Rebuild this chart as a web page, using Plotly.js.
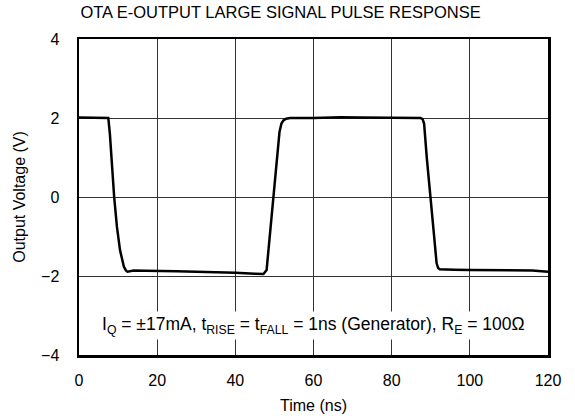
<!DOCTYPE html>
<html>
<head>
<meta charset="utf-8">
<script src="https://cdn.plot.ly/plotly-3.0.1.min.js"></script>
<style>html,body{margin:0;padding:0;background:#fff;}#chart{width:575px;height:419px;}</style>
</head>
<body>
<div id="chart"></div>
<script>
var timeNs = [0, 2, 4, 6, 7.2, 7.5, 7.9, 8.4, 9.0, 9.7, 10.5, 11.5, 12.0, 12.4, 13.2, 14, 17, 20, 25, 30, 35, 40, 45, 47.2, 48.0, 48.9, 49.7, 50.6, 51.3, 51.8, 52.3, 53, 54, 60, 64, 67, 72, 80, 86, 87.4, 87.9, 88.3, 89.0, 90.0, 90.8, 91.5, 91.9, 92.3, 93.5, 96, 100, 105, 111, 116, 120];
var outputV = [2.01, 2.01, 2.01, 2.01, 2.01, 2.0, 1.6, 0.85, 0.0, -0.75, -1.35, -1.77, -1.86, -1.89, -1.88, -1.86, -1.87, -1.87, -1.88, -1.89, -1.9, -1.92, -1.94, -1.95, -1.85, -0.93, 0.0, 0.98, 1.65, 1.86, 1.94, 1.98, 2.0, 2.0, 2.01, 2.02, 2.01, 2.0, 2.0, 2.0, 1.97, 1.86, 0.98, 0.0, -0.93, -1.68, -1.8, -1.83, -1.83, -1.84, -1.85, -1.85, -1.86, -1.86, -1.89];
var xTicks = [0, 20, 40, 60, 80, 100, 120];
var yTicks = [-4, -2, 0, 2, 4];
var titleText = "OTA E-OUTPUT LARGE SIGNAL PULSE RESPONSE";
var noteText = "I<sub>Q</sub> = ±17mA, t<sub>RISE</sub> = t<sub>FALL</sub> = 1ns (Generator), R<sub>E</sub> = 100Ω";

var font = "Liberation Sans, Arial, sans-serif";
var trace = {
  x: timeNs, y: outputV, type: "scatter", mode: "lines",
  line: {color: "#000", width: 2.5}, hoverinfo: "skip"
};
var layout = {
  width: 575, height: 419,
  margin: {l: 79, r: 27, t: 39, b: 64},
  paper_bgcolor: "#fff", plot_bgcolor: "#fff",
  showlegend: false,
  font: {family: font, size: 16, color: "#000"},
  title: {text: titleText, font: {family: font, size: 16.5, color: "#000"}, x: 0.488, xanchor: "center", y: 0.972, yanchor: "middle"},
  xaxis: {
    range: [0, 120], tickvals: xTicks, ticktext: xTicks.map(String),
    showgrid: true, gridcolor: "#333", gridwidth: 1,
    showline: true, linecolor: "#000", linewidth: 2.5, mirror: true,
    ticks: "", zeroline: false, ticklabelstandoff: 9,
    title: {text: "Time (ns)", font: {family: font, size: 16}, standoff: 12}
  },
  yaxis: {
    range: [-4, 4], tickvals: yTicks, ticktext: yTicks.map(function(v){return v < 0 ? "\u2212" + Math.abs(v) : String(v);}),
    showgrid: true, gridcolor: "#333", gridwidth: 1,
    showline: true, linecolor: "#000", linewidth: 2.5, mirror: true,
    ticks: "", zeroline: false, ticklabelstandoff: 14,
    title: {text: "Output Voltage (V)", font: {family: font, size: 16}, standoff: 12}
  },
  annotations: [{
    x: 60, y: -3.25, xref: "x", yref: "y", text: noteText, showarrow: false,
    font: {family: font, size: 17.5, color: "#000"}, bgcolor: "#fff",
    xanchor: "center", yanchor: "middle", borderpad: 2
  }]
};
Plotly.newPlot("chart", [trace], layout, {staticPlot: true, displayModeBar: false});
</script>
</body>
</html>
